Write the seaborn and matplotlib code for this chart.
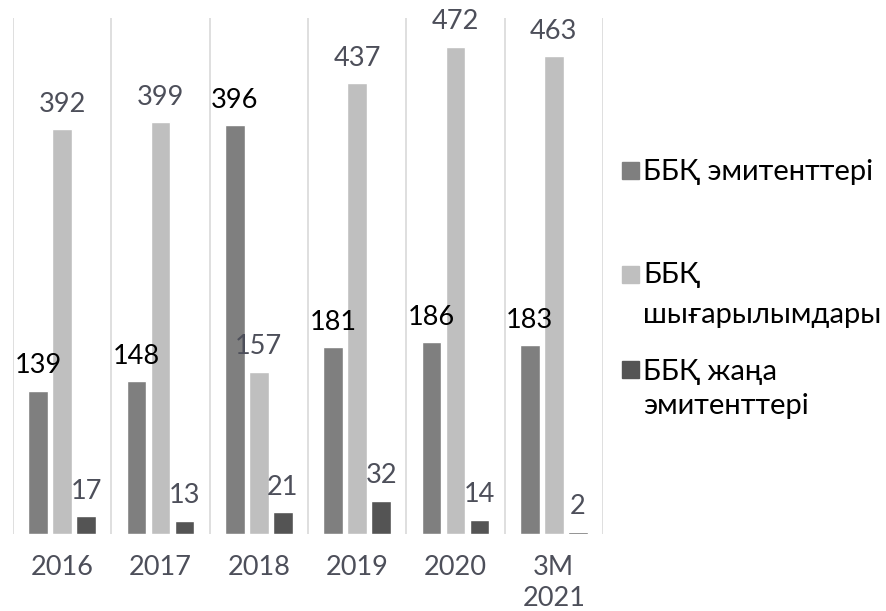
import numpy as np
import pandas as pd
import matplotlib.pyplot as plt
import seaborn as sns
from matplotlib.patches import Rectangle

# --- data ---
kategoriyalar = ['2016', '2017', '2018', '2019', '2020', '3M\n2021']
seriyalar = ['ББҚ эмитенттері', 'ББҚ шығарылымдары', 'ББҚ жаңа эмитенттері']
emitentter = [139, 148, 396, 181, 186, 183]
shygarylymdar = [392, 399, 157, 437, 472, 463]
zhana_emitentter = [17, 13, 21, 32, 14, 2]
legend_zholdar = [['ББҚ эмитенттері'], ['ББҚ', 'шығарылымдары'], ['ББҚ жаңа', 'эмитенттері']]

tuster = ['#7f7f7f', '#bfbfbf', '#545454']
belgi_tusteri = ['#000000', '#4d4f5a', '#4d4f5a']

df = pd.DataFrame({
    'kat': kategoriyalar * 3,
    'seriya': np.repeat(seriyalar, len(kategoriyalar)),
    'man': emitentter + shygarylymdar + zhana_emitentter,
})

sns.set_theme(style='white')
plt.rcParams['font.family'] = ['Lato', 'Open Sans', 'DejaVu Sans']

fig = plt.figure(figsize=(8.87, 6.11), dpi=100)
ax = fig.add_axes([13 / 887, 77 / 611, 590 / 887, 516 / 611])

sns.barplot(data=df, x='kat', y='man', hue='seriya', hue_order=seriyalar,
            palette=tuster, width=0.732, gap=0.17, saturation=1,
            legend=False, ax=ax)

for kont, tus in zip(ax.containers, belgi_tusteri):
    ax.bar_label(kont, padding=9, fontsize=19.5, color=tus)

ax.set_ylim(0, 500)
ax.set_xlim(-0.5, len(kategoriyalar) - 0.5)
ax.set_yticks([])
ax.set_xlabel('')
ax.set_ylabel('')
ax.set_xticks(np.arange(-0.5, len(kategoriyalar)), minor=True)
ax.grid(which='minor', axis='x', color='#d9d9d9', linewidth=1.2)
ax.tick_params(axis='x', which='major', length=0, pad=15, labelsize=19.5,
               labelcolor='#4d4f5a')
for t in ax.get_xticklabels():
    t.set_linespacing(1.3)
ax.tick_params(axis='x', which='minor', length=0)
for sp in ax.spines.values():
    sp.set_visible(False)

# legend on the right (marker sits on the first line)
marker_y = [179, 283, 378]
zhol_y = [[180], [283, 323], [380, 414]]
for zholdar, tus, my, ys in zip(legend_zholdar, tuster, marker_y, zhol_y):
    fig.add_artist(Rectangle((622 / 887, 1 - my / 611), 17 / 887, 17 / 611,
                             transform=fig.transFigure, color=tus))
    for zhol, y in zip(zholdar, ys):
        fig.text(643 / 887, 1 - y / 611, zhol, fontsize=21, color='black',
                 va='baseline', ha='left')

plt.savefig('out.png', dpi=100)
plt.close()
